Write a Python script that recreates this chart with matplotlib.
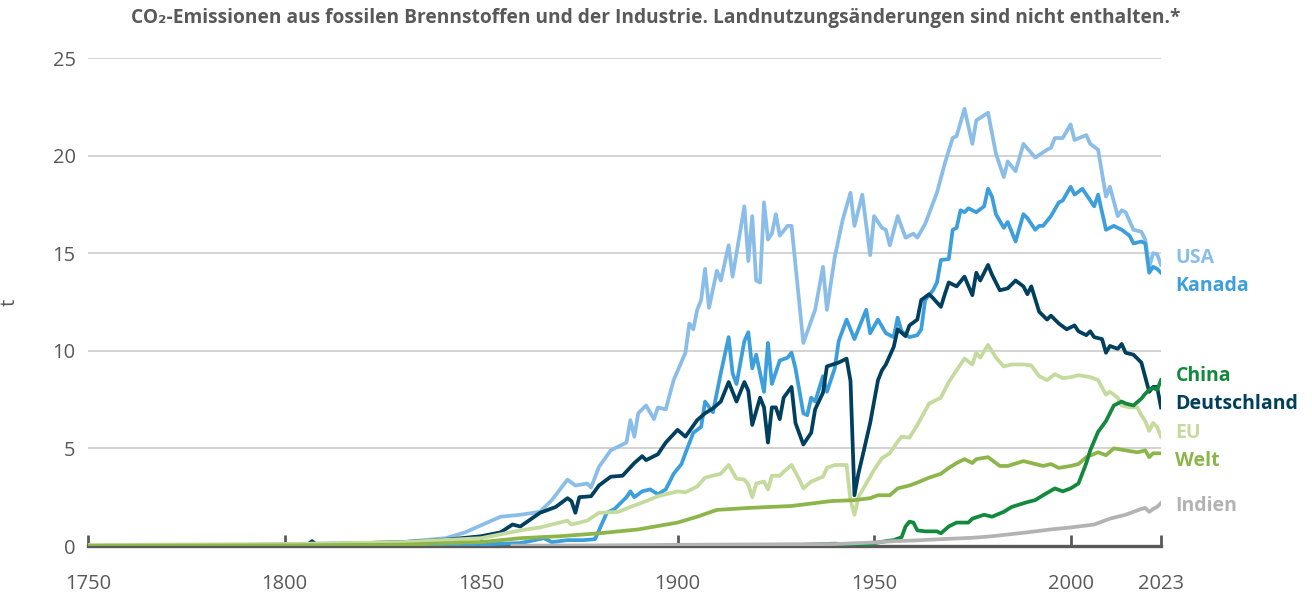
import matplotlib
matplotlib.use("Agg")
import matplotlib.pyplot as plt

# ---------------- data (t CO2 per capita) ----------------
usa_years = [1750, 1790, 1800, 1820, 1830, 1841, 1846, 1851, 1855, 1860, 1865, 1868, 1872, 1874, 1877, 1878,
             1880, 1883, 1887, 1888, 1889, 1890, 1892, 1894, 1895, 1897, 1899, 1902, 1903, 1904, 1905, 1906,
             1907, 1908, 1910, 1911, 1913, 1914, 1917, 1918, 1919, 1920, 1921, 1922, 1923, 1924, 1925, 1926,
             1928, 1929, 1932, 1935, 1937, 1938, 1940, 1942, 1944, 1945, 1947, 1949, 1950, 1952, 1953, 1954,
             1956, 1958, 1960, 1961, 1963, 1966, 1968, 1970, 1971, 1973, 1975, 1976, 1979, 1981, 1983, 1984,
             1986, 1988, 1991, 1994, 1995, 1996, 1998, 2000, 2001, 2004, 2005, 2007, 2009, 2010, 2012, 2013,
             2014, 2016, 2018, 2019, 2020, 2021, 2022, 2023]
usa_vals = [0.0, 0.05, 0.1, 0.15, 0.2, 0.4, 0.7, 1.15, 1.5, 1.6, 1.75, 2.35, 3.4, 3.1, 3.2, 3.0,
            4.05, 4.9, 5.3, 6.45, 5.6, 6.8, 7.2, 6.5, 7.1, 7.0, 8.5, 9.9, 11.4, 11.1, 12.1, 12.6,
            14.2, 12.2, 14.1, 13.6, 15.4, 13.8, 17.4, 14.6, 16.9, 13.6, 13.5, 17.6, 15.7, 16.0, 17.0, 15.9,
            16.4, 16.4, 10.4, 12.1, 14.3, 12.1, 14.8, 16.7, 18.1, 16.4, 18.0, 14.9, 16.9, 16.3, 16.2, 15.4,
            16.9, 15.8, 16.0, 15.8, 16.5, 18.1, 19.6, 20.9, 21.0, 22.4, 20.6, 21.8, 22.2, 20.1, 18.9, 19.7,
            19.2, 20.6, 19.9, 20.3, 20.4, 20.9, 20.9, 21.6, 20.8, 21.05, 20.6, 20.3, 17.9, 18.4, 16.9, 17.2,
            17.1, 16.2, 16.1, 15.7, 14.3, 15.0, 14.95, 14.4]

kanada_years = [1785, 1800, 1830, 1850, 1860, 1866, 1868, 1872, 1876, 1879, 1880, 1882, 1884, 1887, 1888,
                1889, 1891, 1893, 1895, 1897, 1899, 1901, 1902, 1904, 1906, 1907, 1909, 1911, 1913, 1914,
                1915, 1917, 1918, 1919, 1920, 1922, 1923, 1924, 1926, 1928, 1929, 1930, 1932, 1933, 1934,
                1935, 1937, 1938, 1940, 1941, 1943, 1945, 1946, 1948, 1949, 1951, 1953, 1955, 1956, 1957,
                1959, 1961, 1962, 1963, 1965, 1966, 1967, 1969, 1970, 1971, 1972, 1973, 1974, 1976, 1978,
                1979, 1980, 1981, 1983, 1984, 1986, 1988, 1989, 1991, 1992, 1993, 1995, 1997, 1998, 2000,
                2001, 2003, 2005, 2006, 2007, 2009, 2011, 2013, 2015, 2016, 2018, 2019, 2020, 2021, 2022, 2023]
kanada_vals = [0.0, 0.02, 0.05, 0.08, 0.15, 0.4, 0.2, 0.3, 0.3, 0.35, 0.8, 1.7, 1.9, 2.5, 2.8,
               2.5, 2.8, 2.9, 2.65, 2.9, 3.7, 4.2, 4.75, 5.8, 6.1, 7.4, 6.85, 8.85, 10.7, 8.85,
               8.3, 10.5, 10.95, 9.1, 9.8, 7.9, 10.4, 8.3, 9.5, 9.65, 9.9, 9.1, 6.8, 6.7, 7.6,
               7.4, 8.7, 7.9, 9.1, 10.5, 11.6, 10.6, 11.1, 12.1, 10.9, 11.6, 10.9, 10.7, 11.7, 11.0,
               10.7, 10.8, 11.1, 12.6, 13.1, 13.5, 14.65, 14.7, 16.2, 16.3, 17.2, 17.1, 17.3, 17.1, 17.4,
               18.3, 17.9, 17.0, 16.3, 16.6, 15.6, 17.0, 16.8, 16.2, 16.4, 16.4, 16.9, 17.6, 17.7, 18.4,
               18.0, 18.3, 17.7, 17.4, 18.0, 16.2, 16.4, 16.2, 15.9, 15.5, 15.6, 15.5, 14.0, 14.3, 14.2, 14.0]

deutschland_years = [1750, 1790, 1800, 1806, 1807, 1808, 1820, 1830, 1840, 1850, 1855, 1858, 1860, 1865,
                     1869, 1872, 1873, 1874, 1875, 1878, 1880, 1883, 1886, 1889, 1891, 1892, 1895, 1897,
                     1900, 1902, 1905, 1907, 1909, 1911, 1913, 1915, 1917, 1918, 1919, 1921, 1922, 1923,
                     1924, 1925, 1926, 1927, 1929, 1930, 1932, 1934, 1935, 1937, 1938, 1941, 1943, 1944,
                     1945, 1946, 1947, 1949, 1951, 1952, 1953, 1955, 1956, 1958, 1959, 1961, 1962, 1964,
                     1965, 1967, 1968, 1969, 1971, 1973, 1975, 1976, 1977, 1979, 1980, 1982, 1984, 1986,
                     1988, 1989, 1990, 1992, 1994, 1995, 1997, 1999, 2001, 2002, 2004, 2005, 2006, 2008,
                     2009, 2010, 2012, 2013, 2014, 2016, 2018, 2019, 2020, 2021, 2022, 2023]
deutschland_vals = [0.0, 0.03, 0.05, 0.08, 0.25, 0.08, 0.15, 0.2, 0.3, 0.5, 0.7, 1.1, 1.0, 1.7,
                    2.0, 2.45, 2.3, 1.7, 2.5, 2.55, 3.1, 3.55, 3.6, 4.25, 4.6, 4.4, 4.7, 5.3,
                    5.95, 5.6, 6.45, 6.8, 7.05, 7.4, 8.4, 7.4, 8.4, 7.95, 6.2, 7.6, 7.1, 5.3,
                    7.1, 7.1, 6.5, 7.6, 8.15, 6.3, 5.2, 5.8, 7.0, 7.85, 9.2, 9.4, 9.6, 8.45,
                    2.6, 3.7, 4.55, 6.3, 8.5, 9.0, 9.3, 10.2, 11.1, 10.75, 11.3, 11.6, 12.6, 12.9,
                    12.7, 12.25, 12.9, 13.5, 13.3, 13.8, 12.85, 14.0, 13.6, 14.4, 13.9, 13.1, 13.2, 13.6,
                    13.3, 12.9, 13.3, 12.0, 11.6, 11.8, 11.4, 11.1, 11.3, 11.0, 10.8, 11.0, 10.7, 10.6,
                    9.9, 10.25, 10.1, 10.35, 9.9, 9.8, 9.4, 8.65, 7.9, 8.15, 8.15, 7.1]

china_years = [1900, 1920, 1930, 1940, 1945, 1949, 1950, 1953, 1955, 1957, 1958, 1959, 1960, 1961, 1963,
               1966, 1967, 1969, 1971, 1974, 1975, 1978, 1980, 1983, 1985, 1989, 1991, 1993, 1996, 1998,
               2000, 2002, 2004, 2005, 2007, 2009, 2011, 2013, 2014, 2016, 2018, 2019, 2020, 2021, 2022, 2023]
china_vals = [0.02, 0.04, 0.05, 0.12, 0.06, 0.05, 0.14, 0.25, 0.3, 0.45, 1.0, 1.25, 1.2, 0.8, 0.75,
              0.75, 0.65, 1.0, 1.2, 1.2, 1.4, 1.6, 1.5, 1.75, 2.0, 2.25, 2.35, 2.6, 2.95, 2.8,
              2.95, 3.2, 4.25, 4.9, 5.85, 6.4, 7.2, 7.4, 7.3, 7.2, 7.55, 7.8, 8.0, 8.1, 8.0, 8.5]

eu_years = [1750, 1800, 1830, 1850, 1855, 1860, 1865, 1870, 1872, 1873, 1877, 1880, 1885, 1888, 1892,
            1895, 1900, 1902, 1905, 1907, 1909, 1911, 1913, 1915, 1917, 1918, 1919, 1920, 1922, 1923,
            1924, 1926, 1927, 1929, 1931, 1932, 1934, 1937, 1938, 1940, 1943, 1944, 1945, 1946, 1948,
            1950, 1952, 1954, 1956, 1957, 1959, 1961, 1964, 1967, 1969, 1971, 1973, 1975, 1976, 1977,
            1979, 1981, 1983, 1985, 1988, 1990, 1992, 1994, 1996, 1998, 2000, 2002, 2005, 2007, 2009,
            2010, 2012, 2013, 2015, 2017, 2018, 2019, 2020, 2021, 2022, 2023]
eu_vals = [0.05, 0.1, 0.2, 0.4, 0.6, 0.8, 0.95, 1.2, 1.3, 1.1, 1.3, 1.7, 1.75, 2.0, 2.3,
           2.55, 2.8, 2.75, 3.05, 3.5, 3.6, 3.7, 4.15, 3.45, 3.4, 3.15, 2.5, 3.2, 3.3, 2.9,
           3.6, 3.6, 3.8, 4.15, 3.4, 2.95, 3.3, 3.55, 4.0, 4.15, 4.15, 2.35, 1.6, 2.5, 3.2,
           3.9, 4.5, 4.75, 5.35, 5.6, 5.55, 6.2, 7.3, 7.6, 8.4, 9.0, 9.6, 9.3, 9.9, 9.65,
           10.3, 9.65, 9.2, 9.3, 9.3, 9.25, 8.7, 8.5, 8.8, 8.6, 8.65, 8.75, 8.65, 8.5, 7.75,
           7.9, 7.6, 7.2, 7.1, 7.1, 6.7, 6.4, 5.9, 6.3, 6.1, 5.6]

welt_years = [1750, 1800, 1830, 1850, 1860, 1870, 1880, 1890, 1900, 1905, 1910, 1918, 1929, 1939, 1945,
              1949, 1951, 1954, 1956, 1959, 1961, 1964, 1967, 1969, 1971, 1973, 1975, 1976, 1979, 1982,
              1984, 1988, 1990, 1993, 1995, 1997, 2000, 2002, 2004, 2007, 2009, 2011, 2014, 2017, 2019,
              2020, 2021, 2022, 2023]
welt_vals = [0.01, 0.03, 0.07, 0.2, 0.4, 0.5, 0.65, 0.85, 1.2, 1.5, 1.85, 1.95, 2.05, 2.3, 2.35,
             2.45, 2.6, 2.6, 2.95, 3.1, 3.25, 3.5, 3.7, 4.0, 4.25, 4.45, 4.25, 4.45, 4.55, 4.1,
             4.1, 4.35, 4.25, 4.1, 4.2, 4.0, 4.1, 4.2, 4.55, 4.8, 4.65, 5.0, 4.9, 4.8, 4.9,
             4.55, 4.75, 4.75, 4.75]

indien_years = [1858, 1880, 1900, 1920, 1940, 1950, 1955, 1960, 1967, 1975, 1980, 1989, 1995, 2000, 2006,
                2010, 2014, 2018, 2019, 2020, 2021, 2022, 2023]
indien_vals = [0.02, 0.03, 0.06, 0.08, 0.1, 0.18, 0.25, 0.28, 0.35, 0.42, 0.5, 0.7, 0.85, 0.95, 1.1,
               1.4, 1.6, 1.9, 1.95, 1.75, 1.9, 2.0, 2.2]

series = [
    ("USA", usa_years, usa_vals, "#8bbde9"),
    ("Kanada", kanada_years, kanada_vals, "#3c9fdc"),
    ("Deutschland", deutschland_years, deutschland_vals, "#003f5e"),
    ("EU", eu_years, eu_vals, "#c5da9d"),
    ("Welt", welt_years, welt_vals, "#8db64a"),
    ("China", china_years, china_vals, "#12893c"),
    ("Indien", indien_years, indien_vals, "#b3b3b3"),
]

label_pos = {"USA": 14.75, "Kanada": 13.3, "China": 8.7, "Deutschland": 7.3,
             "EU": 5.8, "Welt": 4.35, "Indien": 2.05}

title = "CO\u2082-Emissionen aus fossilen Brennstoffen und der Industrie. Landnutzungs\u00e4nderungen sind nicht enthalten.*"
xticks = [1750, 1800, 1850, 1900, 1950, 2000, 2023]
yticks = [0, 5, 10, 15, 20, 25]

# ---------------- drawing ----------------
plt.rcParams['font.family'] = ['Open Sans', 'DejaVu Sans']
fig = plt.figure(figsize=(13.12, 6.01), dpi=100)
ax = fig.add_axes([88/1312, 1-546/601, (1161-88)/1312, (546-58)/601])

for name, yrs, vals, col in series:
    ax.plot(yrs, vals, color=col, lw=2.7, solid_joinstyle='round', zorder=3)

ax.set_xlim(1750, 2023)
ax.set_ylim(0, 25)
ax.set_yticks(yticks)
ax.set_xticks(xticks)
ax.set_xticklabels([str(t) for t in xticks])
ax.yaxis.grid(True, color="#d0d0d0", lw=1.3)
ax.set_axisbelow(True)
for s in ("top", "right", "left"):
    ax.spines[s].set_visible(False)
ax.spines["bottom"].set_color("#595959")
ax.spines["bottom"].set_linewidth(2.4)
ax.spines["bottom"].set_zorder(2)
ax.tick_params(axis='y', length=0, labelsize=14.5, labelcolor="#595959", pad=9)
ax.tick_params(axis='x', direction='in', length=8, width=2, color="#595959",
               labelsize=14.5, labelcolor="#595959", pad=20)
ax.set_ylabel("t", fontsize=14.5, color="#595959")
ax.yaxis.set_label_coords((20 - 88) / 1073, 0.5)

fig.text(0.5, 1-18/601, title, ha='center', va='center', fontsize=13.8,
         fontweight='bold', color="#595959")

for name, yrs, vals, col in series:
    ax.text(1.0135, label_pos[name], name, transform=ax.get_yaxis_transform(),
            color=col, fontsize=14, fontweight='bold', va='center', ha='left', clip_on=False)

fig.savefig("out.png", dpi=100)
